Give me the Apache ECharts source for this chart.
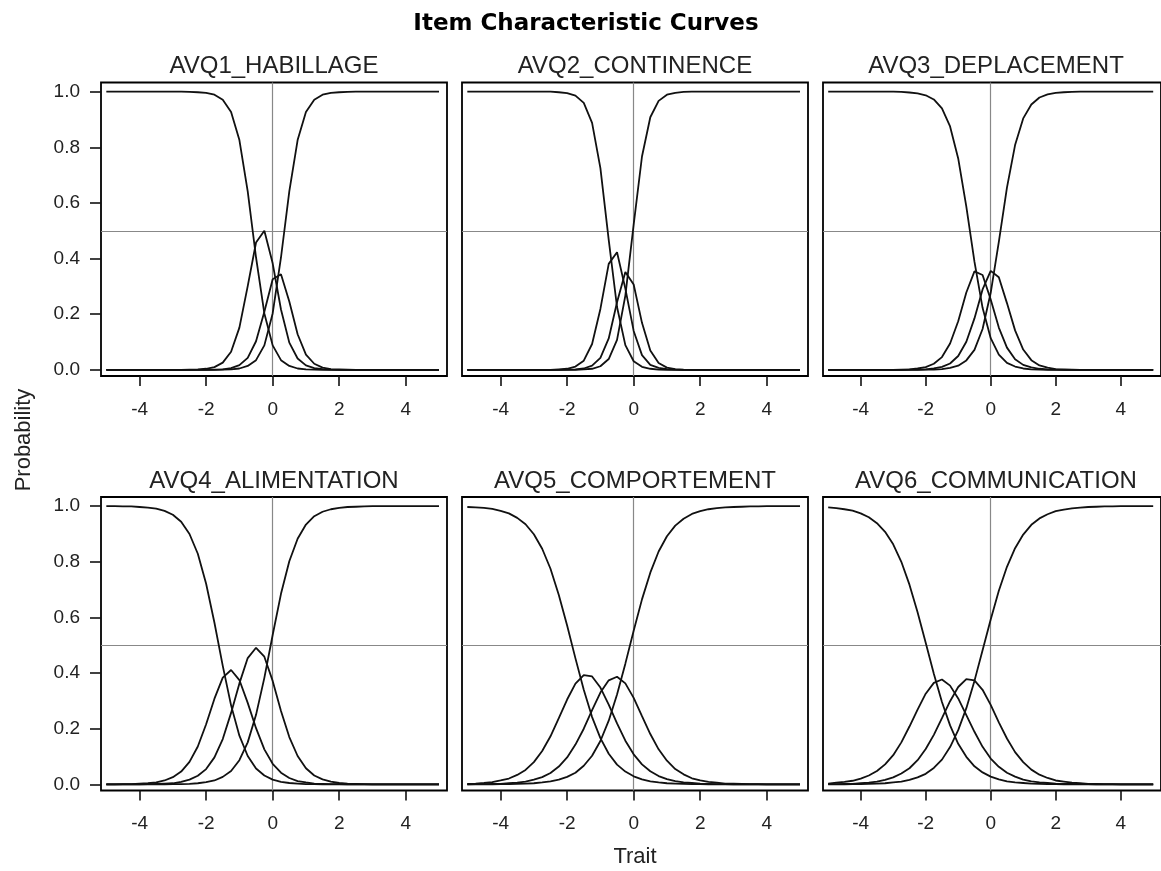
<!DOCTYPE html>
<html>
<head>
<meta charset="utf-8">
<title>Item Characteristic Curves</title>
<script src="https://cdn.jsdelivr.net/npm/echarts@6/dist/echarts.min.js"></script>
<style>
  html, body { margin: 0; padding: 0; background: #ffffff; }
  #chart { width: 1161px; height: 871px; }
</style>
</head>
<body>
<div id="chart"></div>
<script>
// trait values the curves are drawn at
const trait = [-5, -4.75, -4.5, -4.25, -4, -3.75, -3.5, -3.25, -3, -2.75, -2.5, -2.25, -2, -1.75, -1.5, -1.25, -1, -0.75, -0.5, -0.25,
  0, 0.25, 0.5, 0.75, 1, 1.25, 1.5, 1.75, 2, 2.25, 2.5, 2.75, 3, 3.25, 3.5, 3.75, 4, 4.25, 4.5, 4.75, 5];

const panelNames = ["AVQ1_HABILLAGE", "AVQ2_CONTINENCE", "AVQ3_DEPLACEMENT",
  "AVQ4_ALIMENTATION", "AVQ5_COMPORTEMENT", "AVQ6_COMMUNICATION"];

const xTicks = [-4, -2, 0, 2, 4];
const yTicks = [0, 0.2, 0.4, 0.6, 0.8, 1];

// probability of each response category
const avq1Cat0 = [1, 1, 1, 1, 1, 1, 1, 1, 1, 1, .999, .998, .996, .989, .971, .927, .826, .642, .404, .203,
  .088, .035, .014, .005, .002, .001, 0, 0, 0, 0, 0, 0, 0, 0, 0, 0, 0, 0, 0, 0, 0];
const avq1Cat1 = [0, 0, 0, 0, 0, 0, 0, 0, 0, 0, .001, .002, .004, .010, .026, .065, .152, .301, .458, .500,
  .383, .217, .098, .041, .016, .006, .003, .001, 0, 0, 0, 0, 0, 0, 0, 0, 0, 0, 0, 0, 0];
const avq1Cat2 = [0, 0, 0, 0, 0, 0, 0, 0, 0, 0, 0, 0, 0, .001, .002, .006, .017, .043, .103, .209,
  .326, .344, .246, .128, .055, .022, .008, .003, .002, .001, 0, 0, 0, 0, 0, 0, 0, 0, 0, 0, 0];
const avq1Cat3 = [0, 0, 0, 0, 0, 0, 0, 0, 0, 0, 0, 0, 0, 0, .001, .002, .005, .014, .035, .088,
  .203, .404, .642, .826, .927, .971, .989, .996, .998, .999, 1, 1, 1, 1, 1, 1, 1, 1, 1, 1, 1];

const avq2Cat0 = [1, 1, 1, 1, 1, 1, 1, 1, 1, 1, 1, .998, .995, .986, .960, .888, .725, .467, .226, .089,
  .031, .011, .004, .001, 0, 0, 0, 0, 0, 0, 0, 0, 0, 0, 0, 0, 0, 0, 0, 0, 0];
const avq2Cat1 = [0, 0, 0, 0, 0, 0, 0, 0, 0, 0, 0, .002, .004, .012, .033, .093, .219, .381, .423, .292,
  .140, .053, .018, .007, .003, .001, 0, 0, 0, 0, 0, 0, 0, 0, 0, 0, 0, 0, 0, 0, 0];
const avq2Cat2 = [0, 0, 0, 0, 0, 0, 0, 0, 0, 0, 0, 0, .001, .002, .005, .015, .043, .113, .243, .352,
  .307, .169, .070, .025, .008, .003, .001, 0, 0, 0, 0, 0, 0, 0, 0, 0, 0, 0, 0, 0, 0];
const avq2Cat3 = [0, 0, 0, 0, 0, 0, 0, 0, 0, 0, 0, 0, 0, 0, .002, .004, .013, .039, .108, .267,
  .522, .767, .908, .967, .989, .996, .999, 1, 1, 1, 1, 1, 1, 1, 1, 1, 1, 1, 1, 1, 1];

const avq3Cat0 = [1, 1, 1, 1, 1, 1, 1, 1, 1, .999, .997, .994, .987, .972, .940, .875, .760, .587, .389, .223,
  .114, .055, .025, .012, .005, .002, .001, 0, 0, 0, 0, 0, 0, 0, 0, 0, 0, 0, 0, 0, 0];
const avq3Cat1 = [0, 0, 0, 0, 0, 0, 0, 0, 0, .001, .002, .005, .010, .022, .046, .095, .175, .278, .354, .341,
  .253, .152, .080, .038, .018, .009, .004, .002, .001, 0, 0, 0, 0, 0, 0, 0, 0, 0, 0, 0, 0];
const avq3Cat2 = [0, 0, 0, 0, 0, 0, 0, 0, 0, 0, .001, .001, .002, .005, .011, .023, .050, .101, .185, .289,
  .356, .333, .240, .142, .073, .035, .016, .008, .003, .002, .001, 0, 0, 0, 0, 0, 0, 0, 0, 0, 0];
const avq3Cat3 = [0, 0, 0, 0, 0, 0, 0, 0, 0, 0, 0, 0, .001, .001, .003, .007, .015, .034, .072, .147,
  .277, .460, .655, .808, .904, .954, .979, .990, .996, .998, .999, 1, 1, 1, 1, 1, 1, 1, 1, 1, 1];

const avq4Cat0 = [1, 1, .999, .999, .997, .995, .991, .983, .969, .944, .900, .829, .721, .581, .426, .284, .175, .102, .057, .032,
  .017, .009, .005, .003, .001, .001, 0, 0, 0, 0, 0, 0, 0, 0, 0, 0, 0, 0, 0, 0, 0];
const avq4Cat1 = [0, 0, .001, .001, .003, .004, .007, .014, .026, .046, .081, .136, .216, .308, .384, .411, .375, .293, .202, .126,
  .074, .042, .023, .012, .007, .003, .002, .001, .001, 0, 0, 0, 0, 0, 0, 0, 0, 0, 0, 0, 0];
const avq4Cat2 = [0, 0, 0, 0, 0, .001, .002, .003, .004, .009, .017, .031, .055, .097, .163, .257, .363, .454, .491, .459,
  .372, .264, .170, .102, .058, .032, .018, .010, .005, .003, .002, .001, 0, 0, 0, 0, 0, 0, 0, 0, 0];
const avq4Cat3 = [0, 0, 0, 0, 0, 0, 0, 0, .001, .001, .002, .004, .008, .014, .027, .048, .087, .151, .250, .383,
  .537, .685, .802, .883, .934, .964, .980, .989, .994, .997, .998, .999, 1, 1, 1, 1, 1, 1, 1, 1, 1];

const avq5Cat0 = [.997, .996, .994, .990, .983, .974, .958, .935, .899, .847, .775, .681, .571, .453, .340, .242, .166, .110, .071, .046,
  .029, .018, .011, .007, .004, .003, .002, .001, .001, 0, 0, 0, 0, 0, 0, 0, 0, 0, 0, 0, 0];
const avq5Cat1 = [.002, .003, .005, .008, .014, .021, .034, .052, .080, .120, .173, .238, .305, .362, .393, .388, .348, .287, .219, .157,
  .108, .072, .047, .030, .019, .012, .007, .005, .003, .002, .001, .001, 0, 0, 0, 0, 0, 0, 0, 0, 0];
const avq5Cat2 = [0, .001, .001, .002, .002, .004, .006, .010, .017, .026, .041, .064, .097, .143, .200, .267, .330, .374, .387, .363,
  .311, .245, .181, .126, .085, .055, .036, .022, .014, .009, .006, .003, .003, .002, .001, .001, 0, 0, 0, 0, 0];
const avq5Cat3 = [0, 0, 0, 0, .001, .001, .002, .003, .004, .007, .011, .017, .027, .042, .067, .103, .156, .229, .323, .434,
  .552, .665, .761, .837, .892, .930, .955, .972, .982, .989, .993, .996, .997, .998, .999, .999, 1, 1, 1, 1, 1];

const avq6Cat0 = [.996, .993, .989, .984, .974, .960, .939, .908, .863, .800, .718, .619, .509, .398, .296, .212, .146, .099, .065, .043,
  .028, .018, .011, .007, .005, .003, .002, .001, .001, 0, 0, 0, 0, 0, 0, 0, 0, 0, 0, 0, 0];
const avq6Cat1 = [.003, .006, .009, .013, .021, .032, .048, .072, .105, .151, .208, .269, .326, .365, .377, .355, .309, .249, .189, .135,
  .093, .063, .042, .028, .017, .011, .007, .005, .003, .002, .002, .001, .001, 0, 0, 0, 0, 0, 0, 0, 0];
const avq6Cat2 = [.001, .001, .002, .002, .004, .006, .010, .016, .025, .039, .058, .087, .127, .178, .238, .299, .350, .378, .374, .340,
  .286, .223, .165, .116, .080, .053, .035, .023, .014, .010, .006, .004, .002, .002, .001, .001, 0, 0, 0, 0, 0];
const avq6Cat3 = [0, 0, 0, .001, .001, .002, .003, .004, .007, .010, .016, .025, .038, .059, .089, .134, .195, .274, .372, .482,
  .593, .696, .782, .849, .898, .933, .956, .971, .982, .988, .992, .995, .997, .998, .999, .999, 1, 1, 1, 1, 1];

const panelCurves = [
  [avq1Cat0, avq1Cat1, avq1Cat2, avq1Cat3],
  [avq2Cat0, avq2Cat1, avq2Cat2, avq2Cat3],
  [avq3Cat0, avq3Cat1, avq3Cat2, avq3Cat3],
  [avq4Cat0, avq4Cat1, avq4Cat2, avq4Cat3],
  [avq5Cat0, avq5Cat1, avq5Cat2, avq5Cat3],
  [avq6Cat0, avq6Cat1, avq6Cat2, avq6Cat3],
];

// panel boxes (pixels)
const colLeft = [101, 462, 823];
const rowTop = [82.5, 497];
const boxW = 346;
const boxH = 293.5;

const INK = "#111111";
const FONT = "Liberation Sans";

const grids = [], xAxes = [], yAxes = [], series = [], titles = [];

titles.push({
  text: "Item Characteristic Curves",
  left: 586, top: 24, padding: 0,
  textAlign: "center", textVerticalAlign: "middle",
  textStyle: { fontFamily: "DejaVu Sans", fontWeight: "bold", fontSize: 23, color: "#000" },
});

panelNames.forEach((name, p) => {
  const col = p % 3;
  const row = Math.floor(p / 3);
  const left = colLeft[col];
  const top = rowTop[row];

  grids.push({
    left: left, top: top, width: boxW, height: boxH,
    show: true, borderColor: "#000", borderWidth: 1.8, backgroundColor: "transparent",
  });

  titles.push({
    text: name,
    left: left + boxW / 2, top: top - 16, padding: 0,
    textAlign: "center", textVerticalAlign: "middle",
    textStyle: { fontFamily: FONT, fontWeight: "normal", fontSize: 24, color: "#222" },
  });

  xAxes.push({
    type: "value", gridIndex: p, min: -5.16, max: 5.24, position: "bottom",
    axisLine: { show: false, onZero: false },
    splitLine: { show: false },
    axisTick: { show: true, customValues: xTicks, length: 10, lineStyle: { color: INK, width: 1.6 } },
    axisLabel: {
      customValues: xTicks, margin: 24, fontFamily: FONT, fontSize: 19, color: "#222",
      formatter: (v) => String(v),
    },
  });

  yAxes.push({
    type: "value", gridIndex: p, min: -0.022, max: 1.033, position: "left",
    axisLine: { show: false, onZero: false },
    splitLine: { show: false },
    axisTick: { show: col === 0, customValues: yTicks, length: 11, lineStyle: { color: INK, width: 1.6 } },
    axisLabel: {
      show: col === 0, customValues: yTicks, margin: 21, fontFamily: FONT, fontSize: 19, color: "#222",
      formatter: (v) => v.toFixed(1),
    },
  });

  panelCurves[p].forEach((vals, k) => {
    const s = {
      type: "line", xAxisIndex: p, yAxisIndex: p,
      name: name + " cat " + k,
      data: trait.map((t, i) => [t, vals[i]]),
      showSymbol: false, smooth: false,
      lineStyle: { color: INK, width: 1.8 },
      silent: true, z: 3,
    };
    if (k === 0) {
      // reference lines at trait 0 and probability 0.5
      s.markLine = {
        silent: true, symbol: ["none", "none"], label: { show: false },
        lineStyle: { color: "#888888", width: 1.2, type: "solid" },
        data: [{ xAxis: 0 }, { yAxis: 0.5 }],
        z: 2,
      };
    }
    series.push(s);
  });
});

const option = {
  backgroundColor: "#ffffff",
  animation: false,
  title: titles,
  grid: grids,
  xAxis: xAxes,
  yAxis: yAxes,
  series: series,
  graphic: [
    {
      type: "text", x: 24, y: 440, rotation: Math.PI / 2,
      style: { text: "Probability", align: "center", verticalAlign: "middle",
        fontFamily: FONT, fontSize: 22, fill: "#222" },
    },
    {
      type: "text", x: 635, y: 857,
      style: { text: "Trait", align: "center", verticalAlign: "middle",
        fontFamily: FONT, fontSize: 22, fill: "#222" },
    },
  ],
};

const chart = echarts.init(document.getElementById("chart"), null, { renderer: "canvas" });
chart.setOption(option);
</script>
</body>
</html>
